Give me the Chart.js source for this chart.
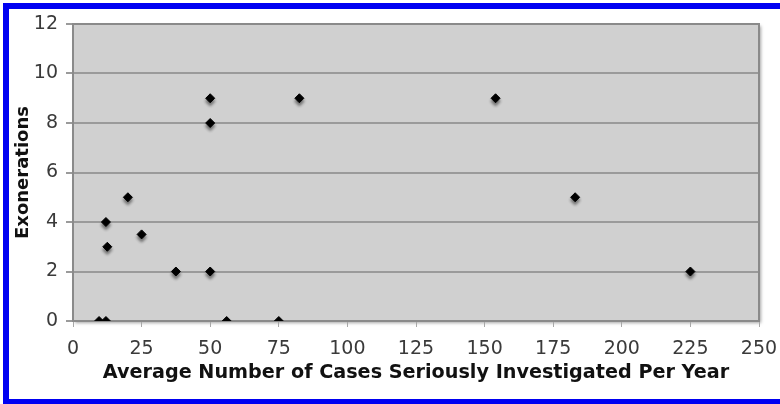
<!DOCTYPE html>
<html>
<head>
<meta charset="utf-8">
<script src="https://cdn.jsdelivr.net/npm/chart.js@4"></script>
<style>
  html, body { margin: 0; padding: 0; background: #ffffff; }
  #wrap { position: relative; width: 780px; height: 404px; overflow: hidden; }
  #c { position: absolute; left: 0; top: 0; }
  .bl { position: absolute; background: #0000f2; }
</style>
</head>
<body>
<div id="wrap">
  <canvas id="c" width="780" height="404"></canvas>
  <div class="bl" style="left:3px;top:3px;width:777px;height:6px;"></div>
  <div class="bl" style="left:3px;top:3px;width:6px;height:401px;"></div>
  <div class="bl" style="left:3px;top:399px;width:777px;height:5px;"></div>
</div>
<script>
const casesPerYear = [9.5, 12, 12, 12.5, 20, 25, 37.5, 50, 50, 50, 56, 75, 82.5, 154, 183, 225];
const exonerations = [0, 0, 4, 3, 5, 3.5, 2, 2, 8, 9, 0, 0, 9, 9, 5, 2];
const xTitle = 'Average Number of Cases Seriously Investigated Per Year';
const yTitle = 'Exonerations';

const points = casesPerYear.map((x, i) => ({ x: x, y: exonerations[i] }));

const plotBg = {
  id: 'plotBg',
  beforeDraw(chart) {
    const { ctx, chartArea: a } = chart;
    ctx.save();
    ctx.shadowColor = 'rgba(0,0,0,0.35)';
    ctx.shadowOffsetX = 2;
    ctx.shadowOffsetY = 2;
    ctx.shadowBlur = 3;
    ctx.fillStyle = '#d0d0d0';
    ctx.fillRect(a.left, a.top, a.right - a.left, a.bottom - a.top);
    ctx.restore();
  },
  afterDraw(chart) {
    const { ctx, chartArea: a } = chart;
    ctx.save();
    ctx.strokeStyle = '#8a8a8a';
    ctx.lineWidth = 2;
    ctx.beginPath();
    ctx.moveTo(a.left, a.top);
    ctx.lineTo(a.right, a.top);
    ctx.lineTo(a.right, a.bottom);
    ctx.stroke();
    ctx.restore();
  }
};

const markerShadow = {
  id: 'markerShadow',
  beforeDatasetsDraw(chart) {
    const ctx = chart.ctx;
    ctx.save();
    ctx.shadowColor = 'rgba(0,0,0,0.45)';
    ctx.shadowOffsetX = 0;
    ctx.shadowOffsetY = 3;
    ctx.shadowBlur = 3;
  },
  afterDatasetsDraw(chart) {
    chart.ctx.restore();
  }
};

new Chart(document.getElementById('c'), {
  type: 'scatter',
  data: {
    datasets: [{
      data: points,
      pointStyle: 'rectRot',
      pointRadius: 4.5,
      pointBorderWidth: 1,
      backgroundColor: '#000000',
      borderColor: '#000000'
    }]
  },
  plugins: [plotBg, markerShadow],
  options: {
    responsive: false,
    animation: false,
    devicePixelRatio: 1,
    layout: { padding: { left: 0, top: 24, right: 21, bottom: 0 } },
    plugins: { legend: { display: false }, tooltip: { enabled: false } },
    scales: {
      x: {
        type: 'linear',
        min: 0, max: 250,
        ticks: { stepSize: 25, color: '#3a3a3a', font: { family: 'DejaVu Sans', size: 19 }, padding: 11, maxRotation: 0 },
        grid: { display: true, drawOnChartArea: false, drawTicks: true, tickLength: 6, color: '#a8a8a8', lineWidth: 1 },
        border: { display: true, color: '#8a8a8a', width: 2 },
        title: { display: true, text: xTitle, color: '#111111', font: { family: 'DejaVu Sans', size: 19.2, weight: 'bold' }, padding: { top: 0, bottom: 19 } },
        afterFit(s) { s.height = 83; s.paddingLeft = 0; s.paddingRight = 0; }
      },
      y: {
        type: 'linear',
        min: 0, max: 12,
        ticks: { stepSize: 2, color: '#3a3a3a', font: { family: 'DejaVu Sans', size: 19 }, padding: 8 },
        grid: { display: true, drawOnChartArea: true, drawTicks: true, tickLength: 7, color: '#9a9a9a', lineWidth: 2 },
        border: { display: true, color: '#8a8a8a', width: 2 },
        title: { display: true, text: yTitle, color: '#111111', font: { family: 'DejaVu Sans', size: 18, weight: 'bold' }, padding: { top: 13, bottom: 0 } },
        afterFit(s) { s.width = 73; s.paddingTop = 0; s.paddingBottom = 0; }
      }
    }
  }
});
</script>
</body>
</html>
